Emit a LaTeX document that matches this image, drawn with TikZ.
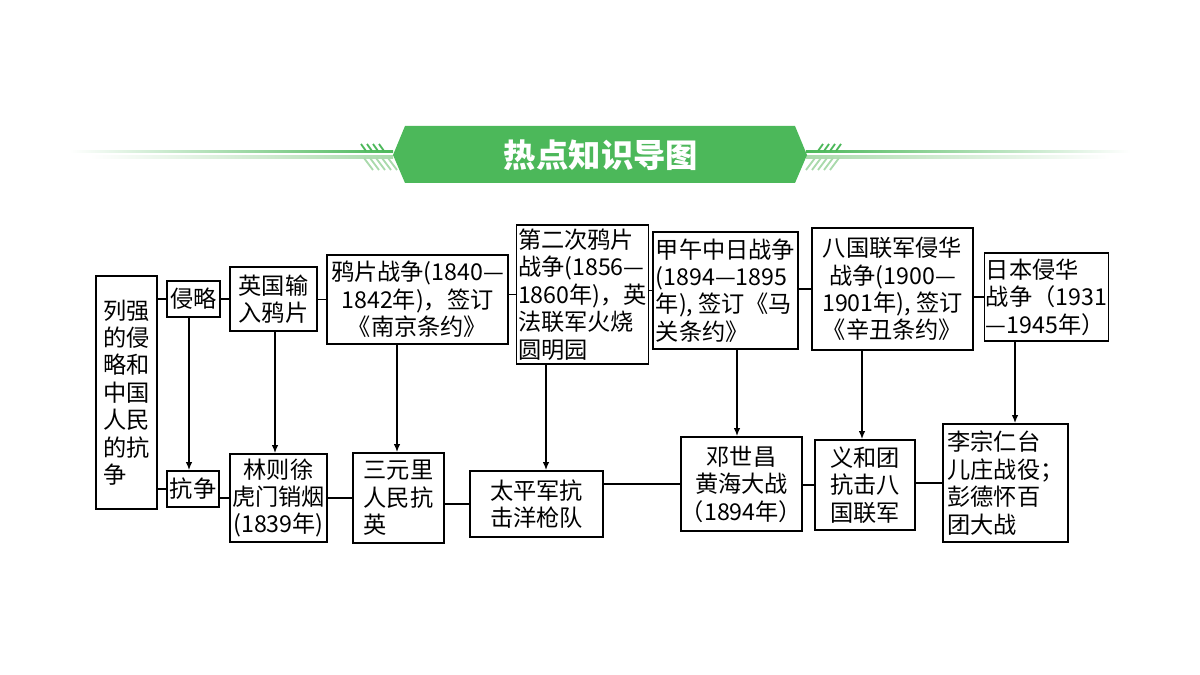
\documentclass[tikz,border=0pt]{standalone}
\usepackage{fontspec}
\newfontfamily\cjk{Noto Sans CJK SC}
\usetikzlibrary{arrows.meta}
\definecolor{banner}{RGB}{76,184,90}
\definecolor{bannerlt}{RGB}{170,218,172}

\begin{document}
\begin{tikzpicture}[x=0.025cm,y=-0.025cm,>={Latex[length=2mm,width=1.6mm]},
  box/.style={draw,line width=1.2pt,align=center,inner sep=1pt,font=\cjk\fontsize{16.5}{19.5}\selectfont},
  sz/.style 2 args={minimum width=#1*0.025cm,minimum height=#2*0.025cm},
  link/.style={line width=1pt},
  hatch/.style={line width=1.3pt}]
\useasboundingbox (0,0) rectangle (1200,675);
\shade[left color=white,right color=banner] (70,150.5) rectangle (393,153);
\shade[left color=white,right color=bannerlt] (90,156) rectangle (393,158.5);
\shade[left color=banner,right color=white] (806,150.5) rectangle (1130,153);
\shade[left color=bannerlt,right color=white] (806,156) rectangle (1110,158.5);
\foreach \i in {0,...,3}{\draw[hatch,banner] (361+6*\i,144) -- (366+6*\i,151);}
\foreach \i in {0,...,4}{\draw[hatch,bannerlt] (364+6*\i,158) -- (373+6*\i,170);}
\foreach \i in {0,...,3}{\draw[hatch,banner] (818+6*\i,151) -- (823+6*\i,144);}
\foreach \i in {0,...,4}{\draw[hatch,bannerlt] (806+6*\i,170) -- (815+6*\i,158);}
\fill[banner] (393,155) -- (405,126) -- (795,126) -- (807,155) -- (795,183) -- (405,183) -- cycle;
\node[font=\cjk\bfseries\fontsize{23}{25}\selectfont,text=white] (title) at (601,155) {热点知识导图};
\node[box,sz={61}{233},align=left] (lq) at (126.5,392.5) {列强\\的侵\\略和\\中国\\人民\\的抗\\争};
\node[box,sz={53}{36}] (ql) at (193.5,299) {侵略};
\node[box,sz={87}{64}] (yg) at (273.5,299) {英国输\\入鸦片};
\node[box,sz={181}{89}] (yp) at (417.5,299.5) {鸦片战争(1840—\\1842年)，签订\\《南京条约》};
\node[box,sz={129}{139},align=left] (ep) at (582.5,294.5) {第二次鸦片\\战争(1856—\\1860年)，英\\法联军火烧\\圆明园};
\node[box,sz={145}{117},align=left] (jw) at (725.5,290.5) {甲午中日战争\\(1894—1895\\年), 签订《马\\关条约》};
\node[box,sz={161}{122}] (bg) at (892.5,289) {八国联军侵华\\战争(1900—\\1901年), 签订\\《辛丑条约》};
\node[box,sz={123}{88},align=left] (rb) at (1046.5,297) {日本侵华\\战争（1931\\—1945年）};
\node[box,sz={52}{36}] (kz) at (193,489) {抗争};
\node[box,sz={97}{88}] (lz) at (278.5,498) {林则徐\\虎门销烟\\(1839年)};
\node[box,sz={91}{90},align=left] (sy) at (398.5,498) {三元里\\人民抗\\英};
\node[box,sz={133}{66}] (tp) at (536.5,504) {太平军抗\\击洋枪队};
\node[box,sz={113}{94},inner sep=0pt] (ds) at (741.5,484) {邓世昌\\黄海大战\\（1894年）};
\node[box,sz={100}{90}] (yh) at (865,485) {义和团\\抗击八\\国联军};
\node[box,sz={125}{118},align=left] (lr) at (1005.5,483) {李宗仁台\\儿庄战役；\\彭德怀百\\团大战};
\foreach \a/\b in {lq/ql,ql/yg,yg/yp,yp/ep,ep/jw,jw/bg,bg/rb,lq/kz,kz/lz,lz/sy,sy/tp,tp/ds,ds/yh,yh/lr}{\draw[link] (\b.west -| \a.east) -- (\b.west);}
\foreach \a/\b/\x in {ql/kz/189,yg/lz/275,yp/sy/397,ep/tp/546,jw/ds/737,bg/yh/862,rb/lr/1015}{\draw[link,->] (\a.south -| \x,0) -- (\b.north -| \x,0);}
\end{tikzpicture}
\end{document}
